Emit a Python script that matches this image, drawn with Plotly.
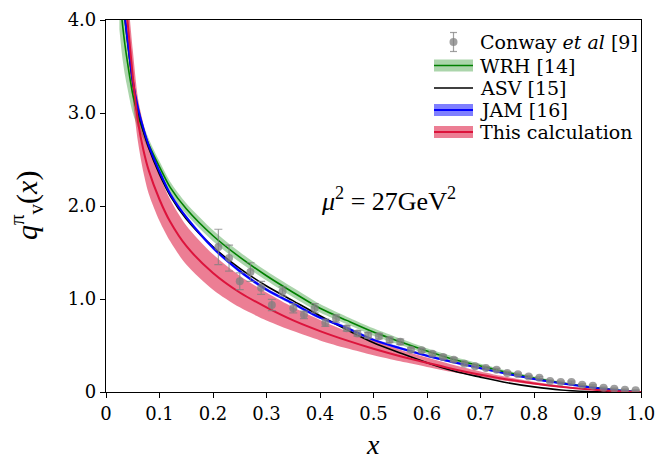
import plotly.graph_objects as go

# ---------------- data ----------------
X = [0.025, 0.03, 0.035, 0.04, 0.05, 0.06, 0.07, 0.08, 0.1, 0.12, 0.15, 0.2, 0.25,
     0.3, 0.35, 0.4, 0.45, 0.5, 0.55, 0.6, 0.65, 0.7, 0.75, 0.8, 0.85, 0.9, 0.95, 1.0]

wrh = [4.3, 4.0, 3.75, 3.55, 3.2, 2.97, 2.8, 2.66, 2.42, 2.2, 1.97, 1.68, 1.45,
       1.25, 1.07, 0.90, 0.77, 0.645, 0.54, 0.44, 0.35, 0.28, 0.21, 0.15, 0.10, 0.058, 0.024, 0.0]
wrh_hw = [0.4, 0.38, 0.33, 0.28, 0.2, 0.13, 0.08, 0.06, 0.06, 0.06, 0.06, 0.06, 0.055,
          0.05, 0.05, 0.045, 0.04, 0.04, 0.035, 0.03, 0.03, 0.025, 0.02, 0.018, 0.014, 0.01, 0.005, 0.0]

asv = [4.8, 4.3, 4.03, 3.78, 3.33, 3.02, 2.80, 2.62, 2.34, 2.11, 1.86, 1.56, 1.33,
       1.14, 0.98, 0.82, 0.67, 0.53, 0.42, 0.315, 0.225, 0.16, 0.10, 0.055, 0.022, 0.006, 0.001, 0.0]

jam = [4.8, 4.3, 4.05, 3.8, 3.35, 3.05, 2.83, 2.65, 2.37, 2.13, 1.88, 1.55, 1.30,
       1.10, 0.95, 0.80, 0.69, 0.56, 0.47, 0.39, 0.32, 0.255, 0.195, 0.14, 0.093, 0.055, 0.022, 0.0]
jam_hw = [0.05, 0.05, 0.04, 0.04, 0.035, 0.03, 0.03, 0.025, 0.02, 0.02, 0.02, 0.02, 0.018,
          0.018, 0.016, 0.016, 0.015, 0.015, 0.014, 0.013, 0.012, 0.011, 0.01, 0.009, 0.008, 0.006, 0.004, 0.0]

calc = [5.0, 4.6, 4.28, 4.0, 3.40, 2.90, 2.60, 2.38, 2.07, 1.83, 1.57, 1.28, 1.07,
        0.91, 0.77, 0.655, 0.555, 0.465, 0.385, 0.315, 0.245, 0.185, 0.135, 0.092, 0.057, 0.029, 0.01, 0.0]
calc_hi = [5.6, 5.0, 4.6, 4.3, 3.68, 3.15, 2.88, 2.66, 2.33, 2.07, 1.79, 1.48, 1.25,
           1.07, 0.91, 0.775, 0.655, 0.55, 0.455, 0.37, 0.29, 0.22, 0.16, 0.11, 0.068, 0.035, 0.012, 0.0]
calc_lo = [4.7, 4.35, 4.02, 3.72, 3.15, 2.68, 2.36, 2.13, 1.84, 1.62, 1.37, 1.10, 0.91,
           0.77, 0.655, 0.555, 0.47, 0.395, 0.33, 0.27, 0.212, 0.162, 0.118, 0.08, 0.048, 0.024, 0.008, 0.0]

conway_x = [0.21, 0.23, 0.25, 0.27, 0.29, 0.31, 0.33, 0.35, 0.37, 0.39,
            0.41, 0.43, 0.45, 0.47, 0.49, 0.51, 0.53, 0.55, 0.57, 0.59,
            0.61, 0.63, 0.65, 0.67, 0.69, 0.71, 0.73, 0.75, 0.77, 0.79,
            0.81, 0.83, 0.85, 0.87, 0.89, 0.91, 0.93, 0.95, 0.97, 0.99]
conway_y = [1.56, 1.44, 1.19, 1.29, 1.12, 0.935, 1.08, 0.90, 0.83, 0.90,
            0.745, 0.79, 0.685, 0.63, 0.61, 0.60, 0.56, 0.54, 0.455, 0.448,
            0.41, 0.376, 0.348, 0.305, 0.276, 0.258, 0.24, 0.204, 0.19, 0.168,
            0.154, 0.118, 0.108, 0.108, 0.079, 0.068, 0.047, 0.036, 0.025, 0.018]
conway_err = [0.19, 0.14, 0.09, 0.10, 0.07, 0.06, 0.05, 0.05, 0.04, 0.05,
              0.04, 0.04, 0.03, 0.03, 0.03, 0.03, 0.03, 0.03, 0.02, 0.02,
              0.02, 0.02, 0.02, 0.015, 0.015, 0.015, 0.015, 0.012, 0.012, 0.01,
              0.01, 0.01, 0.01, 0.01, 0.008, 0.008, 0.006, 0.006, 0.005, 0.004]

legend_labels = ["Conway <i>et al</i> [9]", "WRH [14]", "ASV [15]", "JAM [16]", "This calculation"]

# ---------------- styles ----------------
GREEN = "#008000"
GREEN_BAND = "rgba(0,128,0,0.33)"
BLUE = "#0000ff"
BLUE_BAND = "rgba(0,0,255,0.5)"
RED = "#dc143c"
RED_BAND = "rgba(220,20,60,0.55)"
GREY = "rgba(128,128,128,0.75)"
SERIF = "DejaVu Serif"
MATH = "Liberation Serif"

fig = go.Figure()


def band(lo, hi, color):
    fig.add_trace(go.Scatter(
        x=X + X[::-1], y=hi + lo[::-1], fill="toself", fillcolor=color,
        mode="lines", line=dict(width=0, shape="spline", smoothing=0.8),
        hoverinfo="skip", showlegend=False))


def curve(y, color, width):
    fig.add_trace(go.Scatter(
        x=X, y=y, mode="lines", line=dict(color=color, width=width, shape="spline", smoothing=0.8),
        showlegend=False))


band([a - b for a, b in zip(wrh, wrh_hw)], [a + b for a, b in zip(wrh, wrh_hw)], GREEN_BAND)
band([a - b for a, b in zip(jam, jam_hw)], [a + b for a, b in zip(jam, jam_hw)], BLUE_BAND)
band(calc_lo, calc_hi, RED_BAND)
curve(wrh, GREEN, 1.6)
curve(asv, "black", 1.6)
curve(jam, BLUE, 2.0)
curve(calc, RED, 2.0)

fig.add_trace(go.Scatter(
    x=conway_x, y=conway_y, mode="markers",
    marker=dict(size=8, color=GREY, line=dict(width=0)),
    error_y=dict(type="data", array=conway_err, color=GREY, thickness=1.2, width=4),
    showlegend=False))

# ---------------- manual legend (pixel layout) ----------------
L, R, T, B = 106, 641, 20, 392


def px(xp):
    return (xp - L) / (R - L)


def py(yp):
    return (B - yp) / (B - T)


rows = [42, 65.5, 88, 110, 132]
shapes = []
# Conway: marker with error bar
shapes.append(dict(type="line", xref="paper", yref="paper", x0=px(453.5), x1=px(453.5),
                   y0=py(rows[0] - 9.5), y1=py(rows[0] + 9.5), line=dict(color=GREY, width=1.2)))
for d in (-9.5, 9.5):
    shapes.append(dict(type="line", xref="paper", yref="paper", x0=px(450), x1=px(457),
                       y0=py(rows[0] + d), y1=py(rows[0] + d), line=dict(color=GREY, width=1.2)))
shapes.append(dict(type="circle", xref="paper", yref="paper", x0=px(449.5), x1=px(457.5),
                   y0=py(rows[0] - 4), y1=py(rows[0] + 4), fillcolor=GREY, line=dict(width=0)))
# Bands + lines
for row, fillc, linec, lw in [(rows[1], GREEN_BAND, GREEN, 1.6),
                               (rows[2], None, "black", 1.6),
                               (rows[3], BLUE_BAND, BLUE, 2.0),
                               (rows[4], RED_BAND, RED, 2.0)]:
    if fillc:
        shapes.append(dict(type="rect", xref="paper", yref="paper", x0=px(434), x1=px(473),
                           y0=py(row - 6), y1=py(row + 6), fillcolor=fillc, line=dict(width=0)))
    shapes.append(dict(type="line", xref="paper", yref="paper", x0=px(434), x1=px(473),
                       y0=py(row), y1=py(row), line=dict(color=linec, width=lw)))

annotations = []
for row, lab in zip(rows, legend_labels):
    annotations.append(dict(xref="paper", yref="paper", x=px(478), y=py(row), text=lab,
                            showarrow=False, xanchor="left", yanchor="middle",
                            font=dict(family=SERIF, size=19, color="black")))
annotations.append(dict(xref="paper", yref="paper", x=px(388), y=py(199),
                        text="<i>μ</i><sup>2</sup> = 27GeV<sup>2</sup>", showarrow=False,
                        xanchor="center", yanchor="middle",
                        font=dict(family=MATH, size=26, color="black")))
# axis titles
annotations.append(dict(xref="paper", yref="paper", x=px(373), y=py(461),
                        text="<i>x</i>", showarrow=False, xanchor="center", yanchor="bottom",
                        borderpad=0, font=dict(family=MATH, size=28, color="black")))
annotations.append(dict(xref="paper", yref="paper", x=px(26), y=py(206),
                        text="<i>q</i><sup>π</sup><sub>v</sub>(<i>x</i>)", textangle=-90,
                        showarrow=False, xanchor="center", yanchor="middle",
                        font=dict(family=MATH, size=30, color="black")))

fig.update_layout(
    width=658, height=462,
    margin=dict(l=L, r=658 - R, t=T, b=462 - B, autoexpand=False),
    paper_bgcolor="white", plot_bgcolor="white",
    shapes=shapes, annotations=annotations, showlegend=False,
    xaxis=dict(range=[0, 1], tickvals=[0, 0.1, 0.2, 0.3, 0.4, 0.5, 0.6, 0.7, 0.8, 0.9, 1.0],
               ticktext=["0", "0.1", "0.2", "0.3", "0.4", "0.5", "0.6", "0.7", "0.8", "0.9", "1.0"],
               ticks="outside", ticklen=5, tickwidth=1, tickcolor="black",
               showline=True, linecolor="black", linewidth=1.2, mirror=True,
               showgrid=False, zeroline=False, automargin=False,
               tickfont=dict(family=SERIF, size=18, color="black")),
    yaxis=dict(range=[0, 4], tickvals=[0, 1, 2, 3, 4],
               ticktext=["0", "1.0", "2.0", "3.0", "4.0"],
               ticks="outside", ticklen=5, tickwidth=1, tickcolor="black",
               showline=True, linecolor="black", linewidth=1.2, mirror=True,
               showgrid=False, zeroline=False, automargin=False,
               tickfont=dict(family=SERIF, size=18, color="black")),
)

fig.write_html("out.html", config={"displayModeBar": False},
               post_script="document.body.style.margin='0px';")
